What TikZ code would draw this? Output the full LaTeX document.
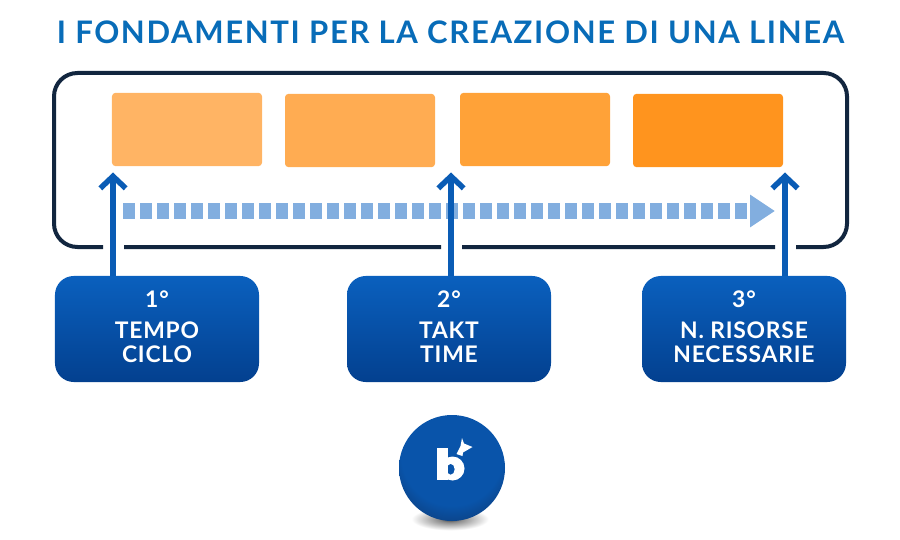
\documentclass[tikz,border=0pt]{standalone}
\usepackage{fontspec}
\setmainfont{Lato}
\newfontfamily\latobold[LetterSpace=5.3]{Lato Bold}
\newfontfamily\latoboldbox[LetterSpace=3.5]{Lato Bold}
\definecolor{lineblue}  {RGB}{10,92,181}
\definecolor{titleblue} {RGB}{8,108,184}
\definecolor{lineblack} {RGB}{18,38,63}
\definecolor{flowblue}  {RGB}{130,174,223}
\definecolor{boxtop}    {RGB}{10,96,190}
\definecolor{boxbottom} {RGB}{3,64,143}
\definecolor{ballmid}   {RGB}{9,84,170}
\definecolor{balldark}  {RGB}{14,52,104}
\definecolor{oranga}    {RGB}{255,180,100}
\definecolor{orangb}    {RGB}{255,172,82}
\definecolor{orangc}    {RGB}{255,162,56}
\definecolor{orangd}    {RGB}{255,148,30}
\usetikzlibrary{arrows.meta,positioning,shapes.geometric,calc}
\pgfdeclareradialshading{ballshade}{\pgfpoint{0bp}{12bp}}{color(0bp)=(ballmid); color(24bp)=(ballmid); color(37bp)=(balldark); color(50bp)=(balldark)}
\pgfdeclareradialshading{shadowshade}{\pgfpoint{0bp}{0bp}}{color(0bp)=(black!75); color(5bp)=(black!45); color(17bp)=(white); color(50bp)=(white)}
\tikzset{
  orangebox/.style={rectangle,rounded corners=3pt,fill=#1,minimum width=45mm,
                    minimum height=22mm,inner sep=0pt},
  stepbox/.style={rectangle,rounded corners=16pt,top color=boxtop,bottom color=boxbottom,
                  minimum width=61.2mm,minimum height=31.8mm,text=white,
                  font=\latoboldbox\fontsize{19.5}{20.5}\selectfont,align=center},
  framepath/.style={lineblack,line width=1.2mm,rounded corners=20pt},
  uparr/.style={-{Straight Barb[length=3.6mm,width=7.6mm,line width=1.65mm]},lineblue,line width=1.65mm},
  flowarr/.style={-{Triangle[length=7.5mm,width=9.3mm]},flowblue,line width=4.8mm,
                  dash pattern=on 3.6mm off 1.5mm},
}
\begin{document}
\begin{tikzpicture}[x=0.03cm,y=-0.03cm]
    \useasboundingbox (0,0) rectangle (900,540);
    \node[font=\latobold\fontsize{26.5}{30}\selectfont,titleblue] (title) at (450.5,32)
      {I FONDAMENTI PER LA CREAZIONE DI UNA LINEA};
    % frame with gaps
    \draw[framepath] (124,247)--(441,247) (462,247)--(775,247)
      (796,247)--(847,247)--(847,73)--(54,73)--(54,247)--(103,247);
    \node[orangebox=oranga] (fasea) at (187,129.5) {};
    \node[orangebox=orangb] (faseb) at (360,130.5) {};
    \node[orangebox=orangc] (fasec) at (535,129.5) {};
    \node[orangebox=orangd] (fased) at (708,130.5) {};
    % flow
    \coordinate (flowa) at (123,211);
    \coordinate (flowb) at (775,211);
    \draw[flowarr] (flowa)--(flowb);
    % steps
    \node[stepbox] (tempo) at (157,329) {1°\\[6pt]TEMPO\\CICLO\\[-17pt]\mbox{}};
    \node[stepbox] (takt) at (449,329) {2°\\[6pt]TAKT\\TIME\\[-17pt]\mbox{}};
    \node[stepbox] (risorse) at (744,329) {3°\\[6pt]N. RISORSE\\NECESSARIE\\[-17pt]\mbox{}};
    \coordinate (tipa) at (113,172.5);
    \coordinate (tipb) at (451,172.5);
    \coordinate (tipc) at (785,172.5);
    \draw[uparr] (tipa|-tempo.north)--(tipa);
    \draw[uparr] (tipb|-takt.north)--(tipb);
    \draw[uparr] (tipc|-risorse.north)--(tipc);
    % ball
    \node[ellipse,minimum width=34mm,minimum height=10mm,inner sep=0pt,
          shading=shadowshade] (shadow) at (450,519) {};
    \node[circle,minimum size=31.8mm,inner sep=0pt,shading=ballshade] (ball) at (452,468) {};
    % logo
    \fill[white] (437,448) rectangle (448,480);
    \fill[white,even odd rule] (452.5,468.5) ellipse (12 and 12) (450.7,469.3) ellipse (4 and 5.5);
    \fill[white] (462,438)--(464,443.5)--(472.5,447)--(463,452.5)--(462.5,456)--(456.5,454)--(460.5,446)--cycle;
\end{tikzpicture}
\end{document}
